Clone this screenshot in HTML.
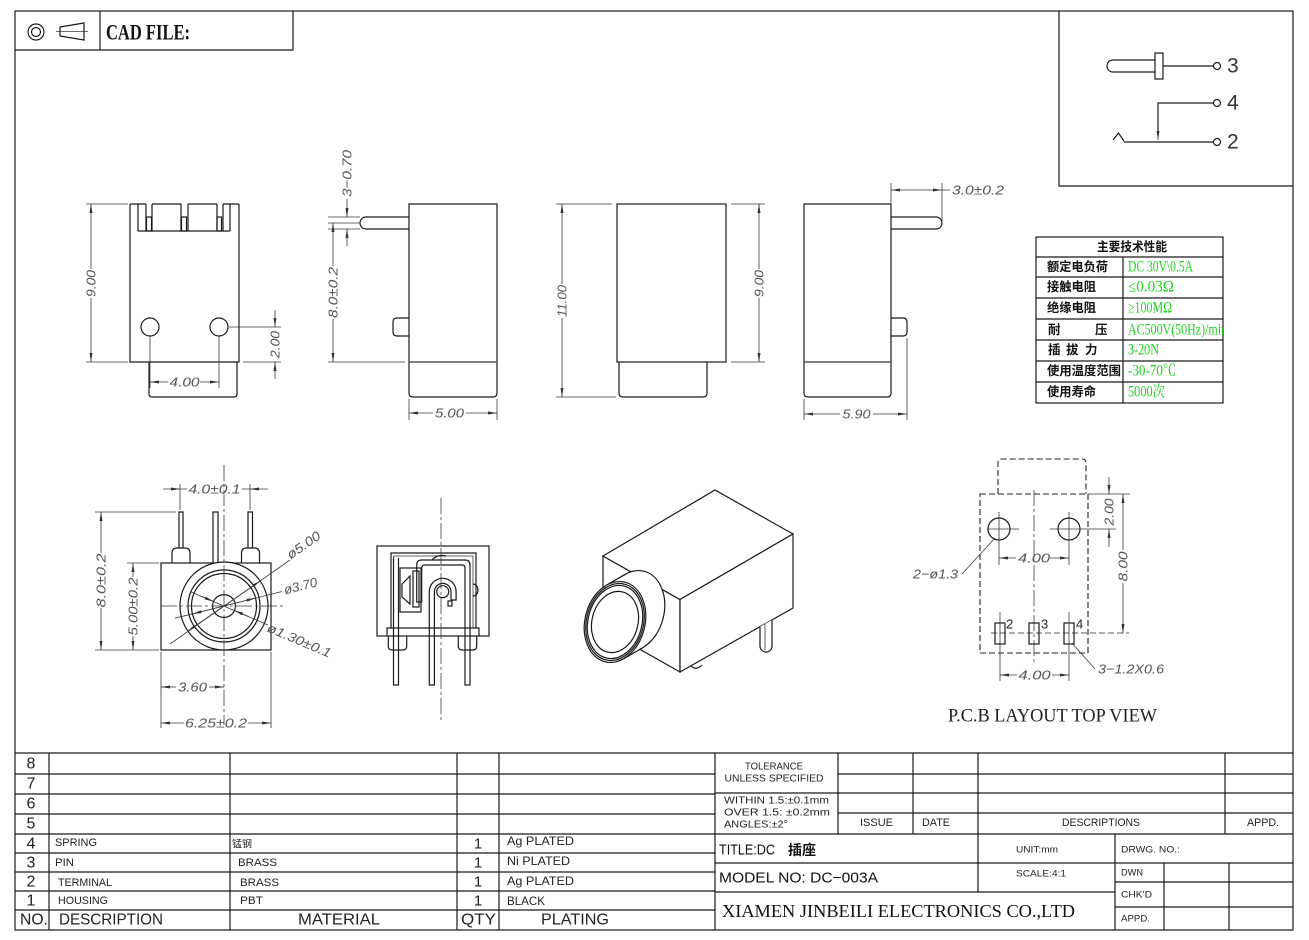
<!DOCTYPE html>
<html><head><meta charset="utf-8"><style>
html,body{margin:0;padding:0;background:#fff}
svg{display:block}
.l{stroke:#1a1a1a;stroke-width:1.2;fill:none}
.lw{stroke:#1a1a1a;stroke-width:1.2;fill:#fff}
.g{stroke:#555;stroke-width:1.6;fill:none}
.d{stroke:#3a3a3a;stroke-width:.8;fill:none}
.c{stroke:#3a3a3a;stroke-width:.8;fill:none;stroke-dasharray:16 3 3 3}
.dh{stroke:#222;stroke-width:1.1;fill:none;stroke-dasharray:6 3}
text{dominant-baseline:central}
.s{font-family:"Liberation Sans","Noto Sans CJK SC",sans-serif}
.sf{font-family:"Liberation Serif","Noto Serif CJK SC",serif}
.dt{font-family:"Liberation Sans",sans-serif;font-style:italic;font-size:13px;fill:#555}
.cj{font-family:"Liberation Sans","Noto Sans CJK SC",sans-serif;font-weight:bold;font-size:12.5px;fill:#111}
.gr{font-family:"Liberation Serif","Noto Serif CJK SC",serif;font-size:15.5px;fill:#1ed41e}
</style></head><body>
<svg width="1309" height="940" viewBox="0 0 1309 940" xmlns="http://www.w3.org/2000/svg">
<defs>
<marker id="ar" viewBox="0 0 9 3" refX="9" refY="1.5" markerWidth="9" markerHeight="3" orient="auto-start-reverse" markerUnits="userSpaceOnUse"><path d="M0,0L9,1.5L0,3z" fill="#333"/></marker>
<clipPath id="tclip"><rect x="1036" y="237" width="187" height="166"/></clipPath>
</defs>
<rect width="1309" height="940" fill="#fff"/>

<!-- frame -->
<rect class="l" x="15" y="11" width="1278" height="919"/>
<path class="l" d="M15,50 H293 V11 M100,11 V50"/>
<circle class="l" cx="36" cy="32" r="8"/><circle class="l" cx="36" cy="32" r="4.5"/>
<polygon class="l" points="60,27 84,23 84,40 60,36"/>
<line class="d" x1="56" y1="31.5" x2="88" y2="31.5"/>
<text class="sf" x="106" y="32" font-size="22" font-weight="bold" textLength="84" lengthAdjust="spacingAndGlyphs" fill="#111">CAD FILE:</text>

<!-- schematic box -->
<path class="l" d="M1059,11 V186 H1293"/>
<path class="l" d="M1155,60 H1113 A6,6 0 0 0 1113,72 H1155"/>
<rect class="l" x="1155" y="53" width="8" height="26"/>
<line class="l" x1="1163" y1="66" x2="1213" y2="66"/>
<circle class="l" cx="1217" cy="66" r="3.5"/>
<text class="s" x="1227" y="66" font-size="21" fill="#333">3</text>
<path class="l" d="M1213,103 H1158 V132"/>
<line class="d" x1="1158" y1="130" x2="1158" y2="140" marker-end="url(#ar)"/>
<circle class="l" cx="1217" cy="103" r="3.5"/>
<text class="s" x="1227" y="103" font-size="21" fill="#333">4</text>
<path class="l" d="M1113,140 L1118.5,133 L1124,141 M1124,142 H1213"/>
<circle class="l" cx="1217" cy="142" r="3.5"/>
<text class="s" x="1227" y="142" font-size="21" fill="#333">2</text>

<!-- spec table -->
<rect class="l" x="1036" y="237" width="187" height="166"/>
<path class="l" d="M1036,257 H1223 M1036,277 H1223 M1036,298 H1223 M1036,319 H1223 M1036,340 H1223 M1036,361 H1223 M1036,382 H1223 M1123,257 V403"/>
<text class="cj" x="1132" y="247" text-anchor="middle" textLength="70" lengthAdjust="spacingAndGlyphs">主要技术性能</text>
<text class="cj" x="1047" y="267" textLength="61" lengthAdjust="spacingAndGlyphs">额定电负荷</text>
<text class="cj" x="1047" y="287" textLength="49" lengthAdjust="spacingAndGlyphs">接触电阻</text>
<text class="cj" x="1047" y="308" textLength="49" lengthAdjust="spacingAndGlyphs">绝缘电阻</text>
<text class="cj" x="1048" y="330">耐</text><text class="cj" x="1095" y="330">压</text>
<text class="cj" x="1048" y="350">插</text><text class="cj" x="1066" y="350">拔</text><text class="cj" x="1085" y="350">力</text>
<text class="cj" x="1047" y="371" textLength="74" lengthAdjust="spacingAndGlyphs">使用温度范围</text>
<text class="cj" x="1047" y="392" textLength="49" lengthAdjust="spacingAndGlyphs">使用寿命</text>
<g clip-path="url(#tclip)">
<text class="gr" x="1128" y="267" textLength="65" lengthAdjust="spacingAndGlyphs">DC 30V\0.5A</text>
<text class="gr" x="1128" y="287" textLength="46" lengthAdjust="spacingAndGlyphs">≤0.03Ω</text>
<text class="gr" x="1128" y="308" textLength="44" lengthAdjust="spacingAndGlyphs">≥100MΩ</text>
<text class="gr" x="1128" y="330" textLength="99" lengthAdjust="spacingAndGlyphs">AC500V(50Hz)/min</text>
<text class="gr" x="1128" y="350" textLength="31" lengthAdjust="spacingAndGlyphs">3-20N</text>
<text class="gr" x="1128" y="371" textLength="48" lengthAdjust="spacingAndGlyphs">-30-70℃</text>
<text class="gr" x="1128" y="392" textLength="37" lengthAdjust="spacingAndGlyphs">5000次</text>
</g>

<!-- VIEW 1 -->
<path class="l" d="M130,204 V362 H239 V204"/>
<path class="l" d="M130,204 H146 M152,204 H181 M188,204 H217 M223,204 H239"/>
<path class="l" d="M138,204 V231 M146,204 V231 M152,204 V231 M181,204 V231 M188,204 V231 M217,204 V231 M223,204 V231 M230,204 V231 M138,231 H230"/>
<rect class="l" x="146.5" y="217" width="5" height="14"/>
<rect class="l" x="181.5" y="217" width="5" height="14"/>
<rect class="l" x="217" y="217" width="4.5" height="14"/>
<circle class="l" cx="150" cy="327" r="9"/><circle class="l" cx="219" cy="327" r="9"/>
<path class="l" d="M149,362 V394 Q149,397 152,397 H234 Q237,397 237,394 V362"/>
<path class="d" d="M86,204 H128 M86,362 H128"/>
<line class="d" x1="91" y1="269" x2="91" y2="204" marker-end="url(#ar)"/>
<line class="d" x1="91" y1="298" x2="91" y2="362" marker-end="url(#ar)"/>
<text class="dt" x="91" y="283.5" text-anchor="middle" transform="rotate(-90 91 283.5)" textLength="27" lengthAdjust="spacingAndGlyphs">9.00</text>
<path class="d" d="M229,327 H281 M243,362 H281"/>
<line class="d" x1="275" y1="310" x2="275" y2="327" marker-end="url(#ar)"/>
<line class="d" x1="275" y1="379" x2="275" y2="362" marker-end="url(#ar)"/>
<text class="dt" x="275" y="344.5" text-anchor="middle" transform="rotate(-90 275 344.5)" textLength="27" lengthAdjust="spacingAndGlyphs">2.00</text>
<path class="d" d="M150,336 V388 M219,336 V388"/>
<line class="d" x1="168" y1="382" x2="150" y2="382" marker-end="url(#ar)"/>
<line class="d" x1="200" y1="382" x2="219" y2="382" marker-end="url(#ar)"/>
<text class="dt" x="184.5" y="382" text-anchor="middle" textLength="30" lengthAdjust="spacingAndGlyphs">4.00</text>

<!-- VIEW 2 -->
<path class="l" d="M409,204 H497 V393 Q497,397 493,397 H413 Q409,397 409,393 Z"/>
<line class="g" x1="409" y1="362" x2="497" y2="362"/>
<path class="l" d="M409,217 H366 A6,6 0 0 0 366,229 H409"/>
<path class="l" d="M409,318 H397 Q393,318 393,322 V332 Q393,336 397,336 H409"/>
<path class="d" d="M328,217 H360 M328,223 H360 M328,229 H360 M328,362 H405 M409,399 V420 M497,399 V420"/>
<line class="d" x1="347" y1="199" x2="347" y2="217" marker-end="url(#ar)"/>
<line class="d" x1="347" y1="246" x2="347" y2="229" marker-end="url(#ar)"/>
<text class="dt" x="347" y="173.5" text-anchor="middle" transform="rotate(-90 347 173.5)" textLength="47" lengthAdjust="spacingAndGlyphs">3−0.70</text>
<line class="d" x1="333" y1="266" x2="333" y2="223" marker-end="url(#ar)"/>
<line class="d" x1="333" y1="319" x2="333" y2="362" marker-end="url(#ar)"/>
<text class="dt" x="333" y="292.5" text-anchor="middle" transform="rotate(-90 333 292.5)" textLength="51" lengthAdjust="spacingAndGlyphs">8.0±0.2</text>
<line class="d" x1="433" y1="413" x2="409" y2="413" marker-end="url(#ar)"/>
<line class="d" x1="466" y1="413" x2="497" y2="413" marker-end="url(#ar)"/>
<text class="dt" x="449.5" y="413" text-anchor="middle" textLength="29" lengthAdjust="spacingAndGlyphs">5.00</text>

<!-- VIEW 3 -->
<rect class="l" x="617" y="204" width="109" height="158"/>
<path class="l" d="M619,362 V393 Q619,397 623,397 H703 Q707,397 707,393 V362"/>
<path class="d" d="M556,204 H612 M556,397 H616 M731,204 H765 M731,362 H765"/>
<line class="d" x1="562" y1="284" x2="562" y2="204" marker-end="url(#ar)"/>
<line class="d" x1="562" y1="318" x2="562" y2="397" marker-end="url(#ar)"/>
<text class="dt" x="562" y="301" text-anchor="middle" transform="rotate(-90 562 301)" textLength="32" lengthAdjust="spacingAndGlyphs">11.00</text>
<line class="d" x1="759" y1="269" x2="759" y2="204" marker-end="url(#ar)"/>
<line class="d" x1="759" y1="298" x2="759" y2="362" marker-end="url(#ar)"/>
<text class="dt" x="759" y="283.5" text-anchor="middle" transform="rotate(-90 759 283.5)" textLength="27" lengthAdjust="spacingAndGlyphs">9.00</text>

<!-- VIEW 4 -->
<path class="l" d="M804,204 H891 V393 Q891,397 887,397 H808 Q804,397 804,393 Z"/>
<line class="g" x1="804" y1="362" x2="891" y2="362"/>
<path class="l" d="M891,217 H936 A6,6 0 0 1 936,229 H891"/>
<path class="l" d="M891,318 H903 Q907,318 907,322 V332 Q907,336 903,336 H891"/>
<path class="d" d="M891,183 V203 M942,183 V223 M942,190 H950 M804,399 V420 M907,338 V420"/>
<line class="d" x1="891" y1="190" x2="942" y2="190" marker-start="url(#ar)" marker-end="url(#ar)"/>
<text class="dt" x="952" y="190" textLength="52" lengthAdjust="spacingAndGlyphs">3.0±0.2</text>
<line class="d" x1="840" y1="414" x2="804" y2="414" marker-end="url(#ar)"/>
<line class="d" x1="873" y1="414" x2="907" y2="414" marker-end="url(#ar)"/>
<text class="dt" x="856.5" y="414" text-anchor="middle" textLength="28" lengthAdjust="spacingAndGlyphs">5.90</text>

<!-- VIEW 5 -->
<rect class="l" x="161" y="563" width="110" height="87"/>
<path class="l" d="M179,548 V512 H183 V548"/>
<path class="l" d="M172,563 V553 Q172,548 177,548 H185 Q190,548 190,553 V563"/>
<path class="l" d="M213,563 V512 H218 V563"/>
<path class="l" d="M248,548 V512 H252.5 V548"/>
<path class="l" d="M241.5,563 V553 Q241.5,548 246.5,548 H254.5 Q259.5,548 259.5,553 V563"/>
<circle class="lw" cx="224" cy="606" r="44"/>
<circle class="l" cx="224" cy="606" r="36"/>
<circle class="l" cx="224" cy="606" r="32.5"/>
<circle class="l" cx="224" cy="606" r="11.4"/>
<line class="c" x1="224" y1="465" x2="224" y2="725"/>
<line class="c" x1="161" y1="606" x2="285" y2="606"/>
<line class="d" x1="170" y1="644" x2="290" y2="560"/>
<line class="d" x1="224" y1="606" x2="260.2" y2="580.9" marker-end="url(#ar)"/>
<line class="d" x1="224" y1="606" x2="187.8" y2="631.1" marker-end="url(#ar)"/>
<text class="dt" x="288" y="556" transform="rotate(-35 288 556)" textLength="38" lengthAdjust="spacingAndGlyphs">ø5.00</text>
<line class="d" x1="175" y1="618.2" x2="282" y2="591.5"/>
<line class="d" x1="224" y1="606" x2="255.5" y2="598.1" marker-end="url(#ar)"/>
<line class="d" x1="224" y1="606" x2="192.5" y2="613.9" marker-end="url(#ar)"/>
<text class="dt" x="284" y="590" transform="rotate(-14 284 590)" textLength="34" lengthAdjust="spacingAndGlyphs">ø3.70</text>
<line class="d" x1="190" y1="591.5" x2="268" y2="625"/>
<line class="d" x1="200" y1="595.7" x2="213.5" y2="601.5" marker-end="url(#ar)"/>
<line class="d" x1="249" y1="616.8" x2="234.5" y2="610.5" marker-end="url(#ar)"/>
<text class="dt" x="268" y="627" transform="rotate(23 268 627)" textLength="68" lengthAdjust="spacingAndGlyphs">ø1.30±0.1</text>
<path class="d" d="M95,512 H176 M95,650 H159 M127,563 H159 M180,484 V510 M250,484 V510 M161,652 V728 M271,652 V728"/>
<line class="d" x1="101" y1="553" x2="101" y2="512" marker-end="url(#ar)"/>
<line class="d" x1="101" y1="608" x2="101" y2="650" marker-end="url(#ar)"/>
<text class="dt" x="101" y="580.5" text-anchor="middle" transform="rotate(-90 101 580.5)" textLength="54" lengthAdjust="spacingAndGlyphs">8.0±0.2</text>
<line class="d" x1="133" y1="577" x2="133" y2="563" marker-end="url(#ar)"/>
<line class="d" x1="133" y1="636" x2="133" y2="650" marker-end="url(#ar)"/>
<text class="dt" x="133" y="606.5" text-anchor="middle" transform="rotate(-90 133 606.5)" textLength="58" lengthAdjust="spacingAndGlyphs">5.00±0.2</text>
<line class="d" x1="163" y1="489" x2="180" y2="489" marker-end="url(#ar)"/>
<line class="d" x1="268" y1="489" x2="250" y2="489" marker-end="url(#ar)"/>
<path class="d" d="M180,489 H187 M242,489 H250"/>
<text class="dt" x="214.5" y="489" text-anchor="middle" textLength="52" lengthAdjust="spacingAndGlyphs">4.0±0.1</text>
<line class="d" x1="176" y1="687" x2="161" y2="687" marker-end="url(#ar)"/>
<line class="d" x1="209" y1="687" x2="224" y2="687" marker-end="url(#ar)"/>
<text class="dt" x="192.5" y="687" text-anchor="middle" textLength="29" lengthAdjust="spacingAndGlyphs">3.60</text>
<line class="d" x1="184" y1="723" x2="161" y2="723" marker-end="url(#ar)"/>
<line class="d" x1="248" y1="723" x2="271" y2="723" marker-end="url(#ar)"/>
<text class="dt" x="216" y="723" text-anchor="middle" textLength="62" lengthAdjust="spacingAndGlyphs">6.25±0.2</text>

<!-- VIEW 6 -->
<rect class="l" x="377" y="546" width="112" height="90"/>
<path class="l" d="M387,636 V628 H479 V636"/>
<path class="l" d="M391,628 V553 H476 V628"/>
<path class="d" d="M393.5,628 V556 H473 V628"/>
<path class="l" d="M393.5,558 V685 H398.5 V558"/>
<path class="l" d="M416.7,602 V565 Q416.7,560 421.7,560 H465 Q470,560 470,565 V685 H465 V568 Q465,565 462,565 H424.7 Q421.7,565 421.7,568 V602 Z"/>
<path class="l" d="M429.3,685 V591.7 A13.4,13.4 0 0 1 456.1,591.7 V600 H451 V591.7 A8.3,8.3 0 0 0 434.4,591.7 V685 Z"/>
<circle class="l" cx="442.7" cy="591.7" r="6"/>
<rect class="l" x="448" y="601" width="4" height="5"/>
<rect class="l" x="400" y="568" width="21" height="44"/>
<polygon class="l" points="402,584 410,576 410,604 402,597"/>
<rect class="l" x="413" y="571" width="6" height="36"/>
<path class="l" d="M473,584 A5,6 0 0 1 473,596"/>
<path class="l" d="M432,560 Q437,554 446,556"/>
<path class="l" d="M388.3,636 V646 Q388.3,650 392,650 H403 Q406.7,650 406.7,646 V636"/>
<path class="l" d="M458.3,636 V646 Q458.3,650 462,650 H473 Q476.7,650 476.7,646 V636"/>
<line class="c" x1="441" y1="498" x2="441" y2="722"/>

<!-- ISOMETRIC -->
<polygon class="lw" points="603,556 680,599.5 680,672 603,628.5"/>
<polygon class="lw" points="603,556 715,490 793,534 680,599.5"/>
<polygon class="lw" points="680,599.5 793,534 793,608 680,672"/>
<path class="lw" d="M760,626.7 V646 A6,6 0 0 0 772,646 V619.9"/>
<line class="d" x1="765" y1="624" x2="765" y2="650"/>
<path class="l" d="M691,666 Q696,671 702,665"/>
<g transform="translate(634,611) rotate(14)"><ellipse class="lw" rx="30" ry="41"/></g>
<polygon points="606.3,585.3 625.3,574.3 642.7,647.7 623.7,658.7" fill="#fff"/>
<line class="l" x1="606.3" y1="585.3" x2="625.3" y2="574.3"/>
<line class="l" x1="623.7" y1="658.7" x2="642.7" y2="647.7"/>
<g transform="translate(615,622) rotate(14)">
<ellipse class="lw" rx="30" ry="41"/><ellipse class="l" rx="28.5" ry="39"/><ellipse class="l" rx="27" ry="37"/><ellipse class="l" rx="23" ry="31"/>
</g>

<!-- PCB LAYOUT -->
<rect class="dh" x="980" y="494" width="108" height="159"/>
<path class="dh" d="M998,494 V463 Q998,459 1002,459 H1082 Q1086,459 1086,463 V494"/>
<circle class="l" cx="999" cy="529" r="11"/>
<circle class="l" cx="1069" cy="529" r="11"/>
<path class="d" d="M987,529 H1019 M999,512 V565 M1050,529 H1084 M1069,512 V565"/>
<line class="c" x1="1034" y1="490" x2="1034" y2="662"/>
<rect class="l" x="995" y="623" width="10" height="21"/>
<rect class="l" x="1029" y="623" width="10" height="21"/>
<rect class="l" x="1064" y="623" width="10" height="21"/>
<text class="s" x="1006" y="624" font-size="13" fill="#222">2</text>
<text class="s" x="1041" y="624" font-size="13" fill="#222">3</text>
<text class="s" x="1076" y="624" font-size="13" fill="#222">4</text>
<line class="dh" x1="991" y1="633" x2="1129" y2="633" style="stroke-width:.8"/>
<path class="d" d="M1000,612 V681 M1069,612 V681"/>
<line class="d" x1="1016" y1="558" x2="999" y2="558" marker-end="url(#ar)"/>
<line class="d" x1="1050" y1="558" x2="1069" y2="558" marker-end="url(#ar)"/>
<text class="dt" x="1034" y="558" text-anchor="middle" textLength="32" lengthAdjust="spacingAndGlyphs">4.00</text>
<line class="d" x1="1017" y1="675" x2="1000" y2="675" marker-end="url(#ar)"/>
<line class="d" x1="1052" y1="675" x2="1069" y2="675" marker-end="url(#ar)"/>
<text class="dt" x="1034.5" y="675" text-anchor="middle" textLength="32" lengthAdjust="spacingAndGlyphs">4.00</text>
<path class="d" d="M1088,494 H1130 M1084,529 H1116"/>
<line class="d" x1="1109" y1="477" x2="1109" y2="494" marker-end="url(#ar)"/>
<line class="d" x1="1109" y1="547" x2="1109" y2="529" marker-end="url(#ar)"/>
<text class="dt" x="1109" y="512" text-anchor="middle" transform="rotate(-90 1109 512)" textLength="27" lengthAdjust="spacingAndGlyphs">2.00</text>
<line class="d" x1="1123" y1="550" x2="1123" y2="494" marker-end="url(#ar)"/>
<line class="d" x1="1123" y1="583" x2="1123" y2="633" marker-end="url(#ar)"/>
<text class="dt" x="1123" y="566.5" text-anchor="middle" transform="rotate(-90 1123 566.5)" textLength="30" lengthAdjust="spacingAndGlyphs">8.00</text>
<line class="d" x1="995" y1="538" x2="962" y2="574"/>
<text class="dt" x="913" y="574" textLength="45" lengthAdjust="spacingAndGlyphs">2−ø1.3</text>
<line class="d" x1="1072" y1="643" x2="1095" y2="669"/>
<text class="dt" x="1098" y="669" textLength="66" lengthAdjust="spacingAndGlyphs">3−1.2X0.6</text>
<text class="sf" x="948" y="716" font-size="19" fill="#222" textLength="209" lengthAdjust="spacingAndGlyphs">P.C.B LAYOUT TOP VIEW</text>

<!-- TITLE BLOCK -->
<path class="l" d="M15,753 H1293"/>
<path class="l" d="M15,774 H715 M15,794 H715 M15,814 H715 M15,834 H715 M15,853 H715 M15,872 H715 M15,891 H715 M15,910 H715"/>
<path class="l" d="M49,753 V930 M230,753 V930 M457,753 V930 M499,753 V930 M715,753 V930"/>
<g class="s" font-size="16" fill="#222" text-anchor="middle">
<text x="31" y="764">8</text><text x="31" y="784">7</text><text x="31" y="804">6</text><text x="31" y="824">5</text>
<text x="31" y="844">4</text><text x="31" y="863">3</text><text x="31" y="882">2</text><text x="31" y="901">1</text>
</g>
<g class="s" font-size="11" fill="#222">
<text x="55" y="843" textLength="42" lengthAdjust="spacingAndGlyphs">SPRING</text>
<text x="55" y="863" textLength="19" lengthAdjust="spacingAndGlyphs">PIN</text>
<text x="58" y="883" textLength="54" lengthAdjust="spacingAndGlyphs">TERMINAL</text>
<text x="58" y="901" textLength="50" lengthAdjust="spacingAndGlyphs">HOUSING</text>
<text x="232" y="845" font-size="10">锰钢</text>
<text x="238" y="863" textLength="39" lengthAdjust="spacingAndGlyphs">BRASS</text>
<text x="240" y="883" textLength="39" lengthAdjust="spacingAndGlyphs">BRASS</text>
<text x="240" y="901" textLength="23" lengthAdjust="spacingAndGlyphs">PBT</text>
</g>
<g class="s" font-size="15" fill="#222" text-anchor="middle"><text x="478" y="844">1</text><text x="478" y="863">1</text><text x="478" y="882">1</text><text x="478" y="901">1</text></g>
<g class="s" font-size="12" fill="#222">
<text x="507" y="841" textLength="67" lengthAdjust="spacingAndGlyphs">Ag PLATED</text>
<text x="507" y="861" textLength="63" lengthAdjust="spacingAndGlyphs">Ni PLATED</text>
<text x="507" y="881" textLength="67" lengthAdjust="spacingAndGlyphs">Ag PLATED</text>
<text x="507" y="901" textLength="38" lengthAdjust="spacingAndGlyphs">BLACK</text>
</g>
<g class="s" font-size="16" fill="#222">
<text x="20" y="920" textLength="28" lengthAdjust="spacingAndGlyphs">NO.</text>
<text x="59" y="920" textLength="104" lengthAdjust="spacingAndGlyphs">DESCRIPTION</text>
<text x="298" y="920" textLength="82" lengthAdjust="spacingAndGlyphs">MATERIAL</text>
<text x="461" y="920" textLength="35" lengthAdjust="spacingAndGlyphs">QTY</text>
<text x="541" y="920" textLength="68" lengthAdjust="spacingAndGlyphs">PLATING</text>
</g>

<path class="l" d="M838,753 V834 M913,753 V834 M978,753 V892 M1225,753 V834 M1115,834 V930 M1164,863 V930 M1229,863 V930"/>
<path class="l" d="M838,774 H1293 M715,793 H1293 M838,813 H1293 M715,834 H1293 M715,863 H1293 M1115,882 H1293 M715,892 H1115 M1115,907 H1293"/>
<g class="s" font-size="10" fill="#222">
<text x="774" y="767" text-anchor="middle" textLength="58" lengthAdjust="spacingAndGlyphs">TOLERANCE</text>
<text x="774" y="779" text-anchor="middle" textLength="99" lengthAdjust="spacingAndGlyphs">UNLESS SPECIFIED</text>
<text x="724" y="801" textLength="105" lengthAdjust="spacingAndGlyphs">WITHIN 1.5:±0.1mm</text>
<text x="724" y="813" textLength="106" lengthAdjust="spacingAndGlyphs">OVER 1.5:  ±0.2mm</text>
<text x="724" y="825" textLength="64" lengthAdjust="spacingAndGlyphs">ANGLES:±2°</text>
</g>
<g class="s" font-size="11" fill="#222">
<text x="860" y="823" textLength="33" lengthAdjust="spacingAndGlyphs">ISSUE</text>
<text x="922" y="823" textLength="28" lengthAdjust="spacingAndGlyphs">DATE</text>
<text x="1062" y="823" textLength="78" lengthAdjust="spacingAndGlyphs">DESCRIPTIONS</text>
<text x="1247" y="823" textLength="32" lengthAdjust="spacingAndGlyphs">APPD.</text>
</g>
<text class="s" x="719" y="850" font-size="15" fill="#111" textLength="56" lengthAdjust="spacingAndGlyphs">TITLE:DC</text>
<text class="s" x="788" y="850" font-size="14" font-weight="bold" fill="#111">插座</text>
<text class="s" x="719" y="878" font-size="15" fill="#111" textLength="159" lengthAdjust="spacingAndGlyphs">MODEL NO: DC−003A</text>
<text class="sf" x="722" y="911" font-size="18" fill="#111" textLength="353" lengthAdjust="spacingAndGlyphs">XIAMEN JINBEILI ELECTRONICS CO.,LTD</text>
<g class="s" font-size="9.5" fill="#222">
<text x="1016" y="850" textLength="42" lengthAdjust="spacingAndGlyphs">UNIT:mm</text>
<text x="1016" y="874" textLength="50" lengthAdjust="spacingAndGlyphs">SCALE:4:1</text>
<text x="1121" y="850" textLength="59" lengthAdjust="spacingAndGlyphs">DRWG. NO.:</text>
<text x="1121" y="873" textLength="22" lengthAdjust="spacingAndGlyphs">DWN</text>
<text x="1121" y="895" textLength="31" lengthAdjust="spacingAndGlyphs">CHK'D</text>
<text x="1121" y="919" textLength="29" lengthAdjust="spacingAndGlyphs">APPD.</text>
</g>
</svg>
</body></html>
